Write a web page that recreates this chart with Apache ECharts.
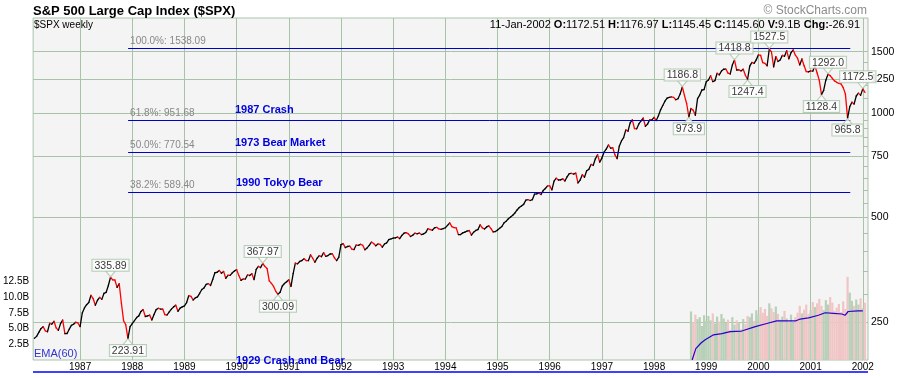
<!DOCTYPE html>
<html>
<head>
<meta charset="utf-8">
<title>S&P 500 Large Cap Index ($SPX)</title>
<script src="https://cdn.jsdelivr.net/npm/echarts@6/dist/echarts.min.js"></script>
<style>
  body { margin: 0; background: #fff; }
  #chart { width: 900px; height: 378px; }
</style>
</head>
<body>
<div id="chart"></div>
<script>
// closes, two per month (mid month, month end)
var spx1986 = [224, 226.9, 233, 238.9, 242, 235.5, 234, 247.4, 246, 250.8, 240, 236.1, 247, 252.9, 231, 231.3, 238, 244, 246, 249.2, 248, 242.2]; // from Feb
var spx1987 = [265, 274.1, 280, 284.2, 298, 291.7, 279, 288.4, 294, 290.1, 302, 304, 318, 335.89, 330, 329.8, 314, 321.8, 282.7, 251.8, 245, 223.91, 242, 247.1];
var spx1988 = [252, 257.1, 260, 267.8, 271, 258.9, 259.8, 261.3, 253, 262.2, 271, 273.5, 272, 272, 262, 261.5, 267, 271.9, 276, 279, 268, 273.7, 276, 277.7];
var spx1989 = [284, 297.5, 296, 288.9, 293, 294.9, 302, 309.6, 313, 320.5, 322, 318, 331, 346.1, 347, 351.5, 345, 349.2, 333.6, 340.4, 340, 346, 350, 353.4];
var spx1990 = [340, 329.1, 332, 331.9, 341, 339.9, 344, 330.8, 354, 361.2, 358, 367.97, 361, 356.2, 327.8, 322.6, 316, 306.1, 300.09, 304, 317, 322.2, 326, 330.2];
var spx1991 = [316, 343.9, 369, 367.1, 373, 375.2, 380, 375.3, 375, 389.8, 381, 371.2, 381, 387.8, 385, 395.4, 386, 387.9, 392, 392.5, 382, 375.2, 384, 417.1];
var spx1992 = [420, 408.8, 412, 412.7, 405, 403.7, 416, 415, 418, 415.4, 403, 408.1, 415, 424.2, 420, 414, 419, 417.8, 410, 418.7, 422, 431.4, 433, 435.7];
var spx1993 = [436, 438.8, 434, 443.4, 450, 451.7, 448, 440.2, 444, 450.2, 448, 450.5, 446, 448.1, 452, 463.6, 461, 458.9, 466, 467.8, 463, 461.8, 464, 466.5];
var spx1994 = [474, 481.6, 470, 467.1, 466, 445.8, 446, 450.9, 453, 456.5, 458, 444.3, 453, 458.3, 461, 475.5, 466, 462.7, 469, 472.4, 464, 453.7, 455, 459.3];
var spx1995 = [465, 470.4, 482, 487.4, 495, 500.7, 507, 514.7, 525, 533.4, 539, 544.8, 560, 562.1, 559, 561.9, 583, 584.4, 587, 581.5, 597, 605.4, 616, 615.9];
var spx1996 = [600, 636, 648, 640.4, 641, 645.5, 636, 654.2, 668, 669.1, 666, 670.6, 628, 640, 663, 652, 681, 687.3, 710, 705.3, 737, 757, 721, 740.7];
var spx1997 = [770, 786.2, 808, 790.8, 793, 757.1, 737.7, 801.3, 830, 848.3, 893, 885.1, 936, 954.3, 900.8, 899.5, 929, 947.3, 966, 914.6, 928, 955.4, 954, 970.4];
var spx1998 = [950, 980.3, 1020, 1049.3, 1080, 1101.8, 1108, 1111.8, 1108, 1090.8, 1098, 1133.8, 1186.8, 1120.7, 1062, 973.9, 1029, 1017, 984, 1098.7, 1125, 1163.6, 1166, 1229.2];
var spx1999 = [1243, 1279.6, 1230, 1238.3, 1300, 1286.4, 1320, 1335.2, 1337, 1301.8, 1294, 1372.7, 1418.8, 1328.7, 1330, 1320.4, 1336, 1282.7, 1247.4, 1362.9, 1397, 1388.9, 1421, 1469.3];
var spx2000 = [1465, 1394.5, 1388, 1366.4, 1527.5, 1498.6, 1356.6, 1452.4, 1406, 1420.6, 1464, 1454.6, 1510, 1430.8, 1491, 1517.7, 1466, 1436.5, 1374, 1429.4, 1367, 1315, 1312, 1320.3];
var spx2001 = [1318, 1366, 1302, 1240, 1128.4, 1160.3, 1242, 1292.0, 1280, 1256, 1236, 1224.4, 1215, 1211.2, 1182, 1133.6, 965.8, 1040.9, 1073, 1059.8, 1118, 1139.5, 1123, 1172.5];
var spx2002 = [1145.6];

// volume in billions, same half-month slots
var vol1998 = [7.7, 6.0, 7.2, 6.5, 6.8, 5.4, 7.1, 6.2]; // from mid Sep
var vol1999 = [7.0, 6.3, 7.4, 5.8, 6.9, 6.1, 7.3, 6.6, 5.9, 6.4, 4.8, 6.8, 5.6, 6.3, 6.0, 4.9, 6.5, 5.7, 7.0, 6.8, 7.4, 6.2, 7.9, 7.2];
var vol2000 = [8.4, 7.5, 8.1, 7.0, 9.0, 8.2, 7.6, 8.5, 7.3, 6.4, 6.9, 7.8, 6.6, 6.0, 7.2, 5.9, 6.8, 7.5, 8.6, 7.4, 8.0, 8.8, 7.3, 7.9];
var vol2001 = [9.2, 8.4, 9.0, 9.7, 8.6, 7.9, 9.5, 8.8, 10.0, 9.1, 7.8, 8.3, 8.9, 7.6, 9.3, 8.1, 13.2, 10.7, 9.4, 8.6, 9.6, 8.8, 9.8, 8.2];
var vol2002 = [9.1];

// EMA(60) of volume as drawn
var emaYears = [1998.73, 1998.8, 1998.9, 1998.98, 1999.14, 1999.3, 1999.46, 1999.68, 1999.94, 2000.16, 2000.35, 2000.71, 2000.8, 2000.96, 2001.15, 2001.28, 2001.44, 2001.6, 2001.66, 2001.72, 2001.91, 2002.0];
var emaValues = [0, 1.8, 2.7, 3.2, 4.0, 4.2, 4.5, 4.6, 5.3, 5.8, 6.2, 6.2, 6.5, 6.7, 7.1, 7.5, 7.4, 7.3, 7.1, 7.7, 7.8, 7.8];

var yearTicks = [1987, 1988, 1989, 1990, 1991, 1992, 1993, 1994, 1995, 1996, 1997, 1998, 1999, 2000, 2001, 2002];
var priceGrid = [250, 500, 750, 1000, 1250, 1500];
var priceMinor = [300, 350, 400, 450, 550, 600, 650, 700, 800, 850, 900, 950, 1100, 1200, 1300, 1400];
var volTicks = [2.5, 5.0, 7.5, 10.0, 12.5];

var fibLevels = [1538.09, 951.68, 770.54, 589.40];
var fibNames = ['100.0%: 1538.09', '61.8%: 951.68', '50.0%: 770.54', '38.2%: 589.40'];

// [year, half-month slot, side]
var callouts = [
  [1987, 13, 'top'], [1987, 21, 'bottom'], [1990, 11, 'top'], [1990, 18, 'bottom'],
  [1998, 12, 'top'], [1998, 15, 'bottom'], [1999, 12, 'top'], [1999, 18, 'bottom'],
  [2000, 4, 'top'], [2001, 7, 'top'], [2001, 4, 'bottom'], [2001, 16, 'bottom'], [2001, 23, 'top']
];

var GRID = '#a9c3a9';
var FONT = '"Liberation Sans", Arial, sans-serif';

var priceRows = [[1986, 2, spx1986], [1987, 0, spx1987], [1988, 0, spx1988], [1989, 0, spx1989],
  [1990, 0, spx1990], [1991, 0, spx1991], [1992, 0, spx1992], [1993, 0, spx1993], [1994, 0, spx1994],
  [1995, 0, spx1995], [1996, 0, spx1996], [1997, 0, spx1997], [1998, 0, spx1998], [1999, 0, spx1999],
  [2000, 0, spx2000], [2001, 0, spx2001], [2002, 0, spx2002]];
var volRows = [[1998, 16, vol1998], [1999, 0, vol1999], [2000, 0, vol2000], [2001, 0, vol2001], [2002, 0, vol2002]];

function slotX(year, slot) { return year + (slot + 1) / 24; }

var pts = [];
var priceBySlot = {};
priceRows.forEach(function (r) {
  r[2].forEach(function (v, k) {
    var x = slotX(r[0], r[1] + k);
    pts.push([x, v]);
    priceBySlot[r[0] + '_' + (r[1] + k)] = v;
  });
});

var segs = [];
for (var i = 1; i < pts.length; i++) {
  segs.push([pts[i - 1][0], pts[i - 1][1], pts[i][0], pts[i][1]]);
}

var volData = [];
volRows.forEach(function (r) {
  r[2].forEach(function (v, k) {
    var slot = r[1] + k;
    var x = slotX(r[0], slot);
    var idx = -1;
    for (var j = 0; j < pts.length; j++) { if (Math.abs(pts[j][0] - x) < 1e-6) { idx = j; break; } }
    var up = idx > 0 ? pts[idx][1] >= pts[idx - 1][1] : true;
    volData.push({ value: [x, v], itemStyle: { color: up ? '#b8cfb8' : '#f0c5c5' } });
  });
});

var emaData = emaYears.map(function (y, k) { return [y, emaValues[k]]; });

var labelData = [], pointerData = [];
callouts.forEach(function (c) {
  var x = slotX(c[0], c[1]);
  var v = priceBySlot[c[0] + '_' + c[1]];
  var txt = c[0] < 1995 ? v.toFixed(2) : v.toFixed(1);
  var top = c[2] === 'top';
  labelData.push({
    value: [x, v],
    label: { position: top ? 'top' : 'bottom', distance: 6, formatter: txt, offset: c[0] === 2001 && c[1] === 23 ? [-5, 0] : [0, 0] }
  });
  pointerData.push({
    value: [x, v],
    symbol: top ? 'path://M0,0 L10,0 L5,6 Z' : 'path://M5,0 L10,6 L0,6 Z',
    symbolOffset: [0, top ? -3.5 : 3.5]
  });
});

var chart = echarts.init(document.getElementById('chart'), null, { renderer: 'canvas' });

var gridLines = [];
yearTicks.forEach(function (y) { gridLines.push({ xAxis: y }); });
var hLines = priceGrid.map(function (v) { return { yAxis: v }; });
var minorTicks = priceMinor.concat(priceGrid).map(function (v) {
  return [{ coord: [2002.0, v] }, { coord: [2002.1, v] }];
});
var fibLines = fibLevels.map(function (v, k) {
  return [{ coord: [1987.92, v], name: fibNames[k] }, { coord: [2001.76, v] }];
});

chart.setOption({
  animation: false,
  backgroundColor: '#ffffff',
  textStyle: { fontFamily: FONT },
  grid: { left: 32, right: 32, top: 18, bottom: 18, show: true, backgroundColor: '#f4f4f4', borderColor: GRID, borderWidth: 1 },
  xAxis: {
    type: 'value', min: 1986.1, max: 2002.1,
    axisLine: { show: false }, axisTick: { show: false }, axisLabel: { show: false }, splitLine: { show: false }
  },
  yAxis: [
    {
      type: 'log', logBase: 10, min: 194, max: 1876, position: 'right',
      axisLine: { show: false }, axisTick: { show: false }, axisLabel: { show: false }, splitLine: { show: false }
    },
    {
      type: 'value', min: 0, max: 54.3, interval: 2.5, position: 'left',
      axisLine: { show: false }, axisTick: { show: false }, splitLine: { show: false },
      axisLabel: {
        margin: 4, fontSize: 10, color: '#000', fontFamily: FONT, showMaxLabel: false,
        formatter: function (v) { return volTicks.indexOf(v) >= 0 ? v.toFixed(1) + 'B' : ''; }
      }
    }
  ],
  series: [
    {
      // grid lines, axis labels and tick marks
      type: 'scatter', xAxisIndex: 0, yAxisIndex: 0, z: 1, silent: true,
      symbolSize: 0, data: [[1990, 500]],
      markLine: {
        z: 1, silent: true, symbol: ['none', 'none'], animation: false,
        lineStyle: { color: GRID, width: 1, type: 'solid' },
        emphasis: { disabled: true },
        data: [].concat(
          gridLines.map(function (d) {
            return Object.assign({}, d, { label: { show: true, position: 'start', distance: 2, fontSize: 10, color: '#000', fontFamily: FONT, formatter: function (p) { return String(p.value); } } });
          }),
          hLines.map(function (d) {
            return Object.assign({}, d, { label: { show: true, position: 'end', distance: 3, fontSize: 10.5, color: '#000', fontFamily: FONT, formatter: function (p) { return String(p.value); } } });
          }),
          minorTicks.map(function (d) { d[0].label = { show: false }; return d; })
        )
      }
    },
    {
      type: 'bar', xAxisIndex: 0, yAxisIndex: 1, z: 2, barWidth: 2.2, silent: true,
      data: volData
    },
    {
      type: 'line', xAxisIndex: 0, yAxisIndex: 1, z: 3, silent: true, symbol: 'none',
      lineStyle: { color: '#2a00cc', width: 1.2 },
      data: emaData
    },
    {
      type: 'custom', xAxisIndex: 0, yAxisIndex: 0, z: 4, silent: true,
      encode: { x: [0, 2], y: [1, 3] },
      data: segs,
      renderItem: function (params, api) {
        var p0 = api.coord([api.value(0), api.value(1)]);
        var p1 = api.coord([api.value(2), api.value(3)]);
        return {
          type: 'line',
          shape: { x1: p0[0], y1: p0[1], x2: p1[0], y2: p1[1] },
          style: { stroke: api.value(3) < api.value(1) ? '#ff0000' : '#000000', lineWidth: 1.3, lineCap: 'round' }
        };
      }
    },
    {
      // Fibonacci retracement levels
      type: 'scatter', xAxisIndex: 0, yAxisIndex: 0, z: 5, silent: true,
      symbolSize: 0, data: [[1990, 500]],
      markLine: {
        z: 5, silent: true, symbol: ['none', 'none'], animation: false,
        lineStyle: { color: '#0000cc', width: 1, type: 'solid' },
        emphasis: { disabled: true },
        label: { show: true, position: 'insideStartTop', distance: 2, fontSize: 10, color: '#888888', fontFamily: FONT, formatter: '{b}' },
        data: fibLines
      }
    },
    {
      type: 'scatter', xAxisIndex: 0, yAxisIndex: 0, z: 6, silent: true,
      symbolSize: [10, 6],
      itemStyle: { color: '#ffffff', borderColor: GRID, borderWidth: 1 },
      data: pointerData
    },
    {
      type: 'scatter', xAxisIndex: 0, yAxisIndex: 0, z: 7, silent: true,
      symbolSize: 1, itemStyle: { color: 'rgba(0,0,0,0)' },
      label: {
        show: true, fontSize: 10.5, lineHeight: 10, color: '#000', fontFamily: FONT,
        backgroundColor: '#ffffff', borderColor: GRID, borderWidth: 1, padding: [1, 2, 0, 2]
      },
      data: labelData
    }
  ],
  graphic: [
    { type: 'text', left: 33, top: 5, style: { text: 'S&P 500 Large Cap Index ($SPX)', font: 'bold 13px ' + FONT, fill: '#000' } },
    { type: 'text', right: 33, top: 5, style: { text: '\u00a9 StockCharts.com', font: '12px ' + FONT, fill: '#8c8c8c' } },
    { type: 'text', left: 34, top: 20, style: { text: '$SPX weekly', font: '10px ' + FONT, fill: '#000' } },
    {
      type: 'text', right: 40, top: 19, z: 10,
      style: {
        text: '11-Jan-2002 {b|O:}1172.51 {b|H:}1176.97 {b|L:}1145.45 {b|C:}1145.60 {b|V:}9.1B {b|Chg:}-26.91',
        font: '11px ' + FONT, fill: '#000',
        rich: { b: { fontWeight: 'bold', fontSize: 11, fontFamily: FONT } }
      }
    },
    { type: 'text', left: 235, top: 104, z: 10, style: { text: '1987 Crash', font: 'bold 11px ' + FONT, fill: '#0000e0' } },
    { type: 'text', left: 235, top: 137, z: 10, style: { text: '1973 Bear Market', font: 'bold 11px ' + FONT, fill: '#0000e0' } },
    { type: 'text', left: 236, top: 177, z: 10, style: { text: '1990 Tokyo Bear', font: 'bold 11px ' + FONT, fill: '#0000e0' } },
    { type: 'text', left: 236, top: 355, z: 10, style: { text: '1929 Crash and Bear', font: 'bold 11px ' + FONT, fill: '#0000e0' } },
    { type: 'text', left: 34, top: 348, z: 10, style: { text: 'EMA(60)', font: '11px ' + FONT, fill: '#3333cc' } },
    { type: 'line', z: 10, shape: { x1: 33, y1: 372, x2: 868, y2: 372 }, style: { stroke: '#0000ff', lineWidth: 1.5 } }
  ]
});
</script>
</body>
</html>
